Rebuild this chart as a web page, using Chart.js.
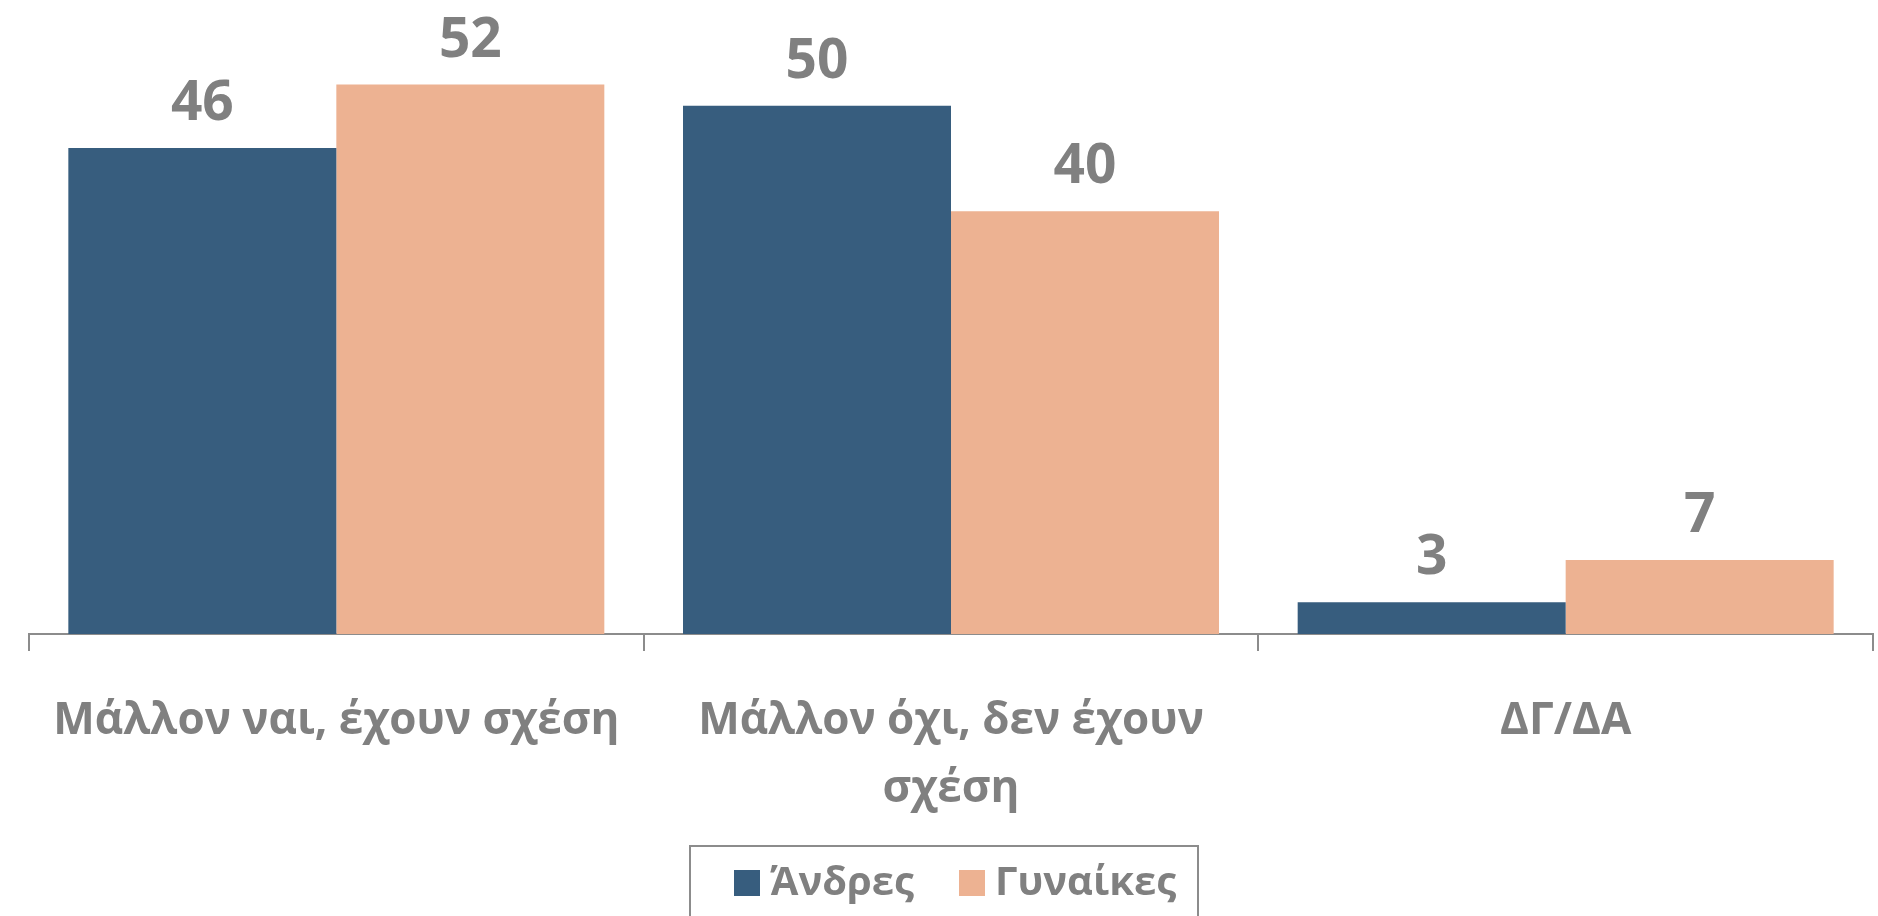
<!DOCTYPE html>
<html>
<head>
<meta charset="utf-8">
<script src="https://cdn.jsdelivr.net/npm/chart.js@4/dist/chart.umd.min.js"></script>
<style>
  html, body { margin: 0; padding: 0; background: #fff; }
  #wrap { width: 1878px; height: 916px; position: relative; }
</style>
</head>
<body>
<div id="wrap"><canvas id="chart"></canvas></div>
<script>
// categories and series
var categories = [
  'Μάλλον ναι, έχουν σχέση',
  ['Μάλλον όχι, δεν έχουν', 'σχέση'],
  'ΔΓ/ΔΑ'
];
var seriesNames = ['Άνδρες', 'Γυναίκες'];
var men = [46, 50, 3];
var women = [52, 40, 7];

var colorMen = '#375d7e';
var colorWomen = '#edb292';
var textGray = '#808080';
var fontFamily = '"Open Sans", "Noto Sans", sans-serif';

// value above each bar
var barValues = {
  id: 'barValues',
  afterDatasetsDraw: function(chart) {
    var ctx = chart.ctx;
    ctx.save();
    ctx.fillStyle = textGray;
    ctx.font = 'bold 55px ' + fontFamily;
    ctx.textAlign = 'center';
    ctx.textBaseline = 'alphabetic';
    chart.data.datasets.forEach(function(ds, i) {
      chart.getDatasetMeta(i).data.forEach(function(bar, j) {
        ctx.fillText(ds.data[j], bar.x, bar.y - 28);
      });
    });
    ctx.restore();
  }
};

// legend in a framed box under the axis
var boxLegend = {
  id: 'boxLegend',
  afterDraw: function(chart) {
    var ctx = chart.ctx;
    var left = 690, top = 846, right = 1198;
    ctx.save();
    ctx.strokeStyle = '#8c8c8c';
    ctx.lineWidth = 2;
    ctx.strokeRect(left, top, right - left, 120);
    ctx.font = 'bold 40px ' + fontFamily;
    ctx.textBaseline = 'middle';
    ctx.textAlign = 'left';
    var xs = [734, 959];
    chart.data.datasets.forEach(function(ds, i) {
      ctx.fillStyle = ds.backgroundColor;
      ctx.fillRect(xs[i], 870, 26, 26);
      ctx.fillStyle = textGray;
      ctx.fillText(ds.label, xs[i] + 36, 884);
    });
    ctx.restore();
  }
};

new Chart(document.getElementById('chart'), {
  type: 'bar',
  data: {
    labels: categories,
    datasets: [
      { label: seriesNames[0], data: men, backgroundColor: colorMen },
      { label: seriesNames[1], data: women, backgroundColor: colorWomen }
    ]
  },
  options: {
    responsive: true,
    maintainAspectRatio: false,
    animation: false,
    events: [],
    layout: { padding: { left: 29, right: 5, top: 0, bottom: 0 } },
    datasets: {
      bar: { categoryPercentage: 0.872, barPercentage: 1.0 }
    },
    plugins: {
      legend: { display: false },
      tooltip: { enabled: false }
    },
    scales: {
      x: {
        afterFit: function(scale) { scale.height = 282; },
        grid: {
          display: true,
          drawOnChartArea: false,
          drawTicks: true,
          tickLength: 17,
          color: '#8c8c8c',
          lineWidth: 2,
          offset: true
        },
        border: { display: true, color: '#8c8c8c', width: 2 },
        ticks: {
          color: textGray,
          padding: 36,
          maxRotation: 0,
          autoSkip: false,
          font: { family: fontFamily, size: 44, weight: 'bold', lineHeight: '68px' }
        }
      },
      y: {
        display: false,
        min: 0,
        max: 60
      }
    }
  },
  plugins: [barValues, boxLegend]
});
</script>
</body>
</html>
